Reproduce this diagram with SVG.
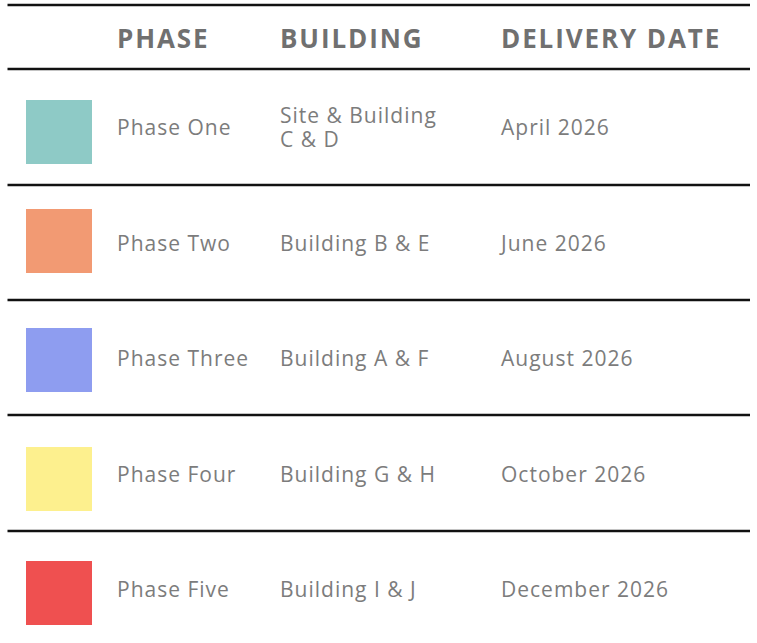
<svg xmlns="http://www.w3.org/2000/svg" width="757" height="643" viewBox="0 0 757 643">
<style>
.rule{stroke:#111;stroke-width:2.5}
.hd{font-family:"Open Sans","Liberation Sans",sans-serif;font-weight:700;font-size:26px;fill:#707070;letter-spacing:1.9px}
.tx{font-family:"Open Sans","Liberation Sans",sans-serif;font-size:21px;fill:#7c7c7c;letter-spacing:1px}
</style>
<rect width="757" height="643" fill="#fff"/>
<g id="rules">
<line class="rule" x1="7.5" y1="5" x2="750" y2="5"/>
<line class="rule" x1="7.5" y1="69" x2="750" y2="69"/>
<line class="rule" x1="7.5" y1="185" x2="750" y2="185"/>
<line class="rule" x1="7.5" y1="300" x2="750" y2="300"/>
<line class="rule" x1="7.5" y1="415" x2="750" y2="415"/>
<line class="rule" x1="7.5" y1="531" x2="750" y2="531"/>
</g>
<g id="header">
<text class="hd" x="117" y="48">PHASE</text>
<text class="hd" x="280" y="48">BUILDING</text>
<text class="hd" x="501" y="48">DELIVERY DATE</text>
</g>
<g id="row1">
<rect x="26" y="100" width="66" height="64" fill="#8ecac6"/>
<text class="tx" x="117" y="135">Phase One</text>
<text class="tx" x="280" y="123">Site &amp; Building</text>
<text class="tx" x="280" y="147">C &amp; D</text>
<text class="tx" x="501" y="135">April 2026</text>
</g>
<g id="row2">
<rect x="26" y="209" width="66" height="64" fill="#f29a73"/>
<text class="tx" x="117" y="251">Phase Two</text>
<text class="tx" x="280" y="251">Building B &amp; E</text>
<text class="tx" x="501" y="251">June 2026</text>
</g>
<g id="row3">
<rect x="26" y="328" width="66" height="64" fill="#8e9df0"/>
<text class="tx" x="117" y="366">Phase Three</text>
<text class="tx" x="280" y="366">Building A &amp; F</text>
<text class="tx" x="501" y="366">August 2026</text>
</g>
<g id="row4">
<rect x="26" y="447" width="66" height="64" fill="#fdf08e"/>
<text class="tx" x="117" y="482">Phase Four</text>
<text class="tx" x="280" y="482">Building G &amp; H</text>
<text class="tx" x="501" y="482">October 2026</text>
</g>
<g id="row5">
<rect x="26" y="561" width="66" height="64" fill="#ef5050"/>
<text class="tx" x="117" y="597">Phase Five</text>
<text class="tx" x="280" y="597">Building I &amp; J</text>
<text class="tx" x="501" y="597">December 2026</text>
</g>
</svg>
